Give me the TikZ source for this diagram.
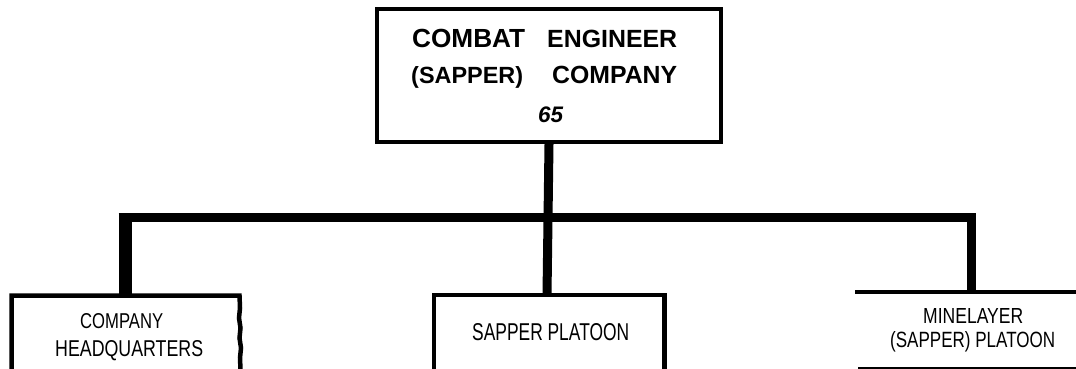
\documentclass[tikz,border=0pt]{standalone}
\usepackage{fontspec}
\setmainfont{Liberation Sans}
\usepackage{graphicx}
\newcommand\fitbox[3]{\resizebox{#1pt}{#2pt}{#3}}
\newcommand\fitw[2]{\resizebox{#1pt}{!}{#2}}
\begin{document}
\begin{tikzpicture}[x=1pt,y=-1pt,
  boxline/.style={line width=4.5pt},
  conn/.style={line width=9pt},
  lbl/.style={inner sep=0pt, anchor=base west},
  toptext/.style={inner sep=0pt, anchor=base west, font=\fontsize{24.5}{28}\bfseries}]
\useasboundingbox (0,0) rectangle (1076,369);
% top box
\node[draw, line width=4pt, minimum width=344pt, minimum height=132.5pt, inner sep=0pt] (top) at (549,75.75) {};
\node[toptext] (t1a) at (412,48) {\fitw{113}{COMBAT}};
\node[toptext] (t1b) at (547,48) {\fitw{130}{ENGINEER}};
\node[toptext] (t2a) at (411,83.5) {\fitw{112}{(SAPPER)}};
\node[toptext] (t2b) at (552,83.5) {\fitw{125}{COMPANY}};
\node[inner sep=0pt, anchor=base west, font=\fontsize{21}{24}\bfseries\itshape] (num) at (538,122) {\fitw{25}{65}};
% coordinates
\coordinate (hqtop) at (125,294);
\coordinate (sptop) at (547,295);
\coordinate (mltop) at (971.5,292);
\coordinate (jL) at (125,217.5);
\coordinate (jR) at (971.5,217.5);
% connectors
\draw[conn] (top.south) -- (sptop);
\draw[conn] (jL) -- (jR) -- (mltop);
\draw[line width=13pt] (hqtop) -- ([yshift=-4.5pt]jL);
\draw[conn] ([xshift=-6.5pt]jL) -- ([xshift=6.5pt]jL);
% HQ box (open bottom, slightly jagged right)
\draw[boxline, line join=miter] (11.5,369.5) -- (11.5,295.5) -- (239.5,295.5)
  -- (240,308) -- (239,318) -- (240.5,328) -- (239.5,338) -- (241,348) -- (240,358) -- (240.5,369.5);
\node[lbl] (hq1) at (80,328.3) {\fitbox{83}{15}{COMPANY}};
\node[lbl] (hq2) at (55,356) {\fitbox{148}{16}{HEADQUARTERS}};
% Sapper platoon box
\draw[boxline, line join=miter] (434,369.5) -- (434,295) -- (664.5,295) -- (664.5,369.5);
\node[lbl] (sp) at (472,340) {\fitbox{157}{17}{SAPPER PLATOON}};
% Minelayer
\draw[boxline] (855,292) -- (1076,292);
\draw[line width=3pt] (858,368) -- (1076,368);
\node[lbl] (ml1) at (923,323) {\fitbox{100}{15}{MINELAYER}};
\node[lbl] (ml2) at (890,347.5) {\fitbox{165}{16}{(SAPPER) PLATOON}};
\end{tikzpicture}
\end{document}
